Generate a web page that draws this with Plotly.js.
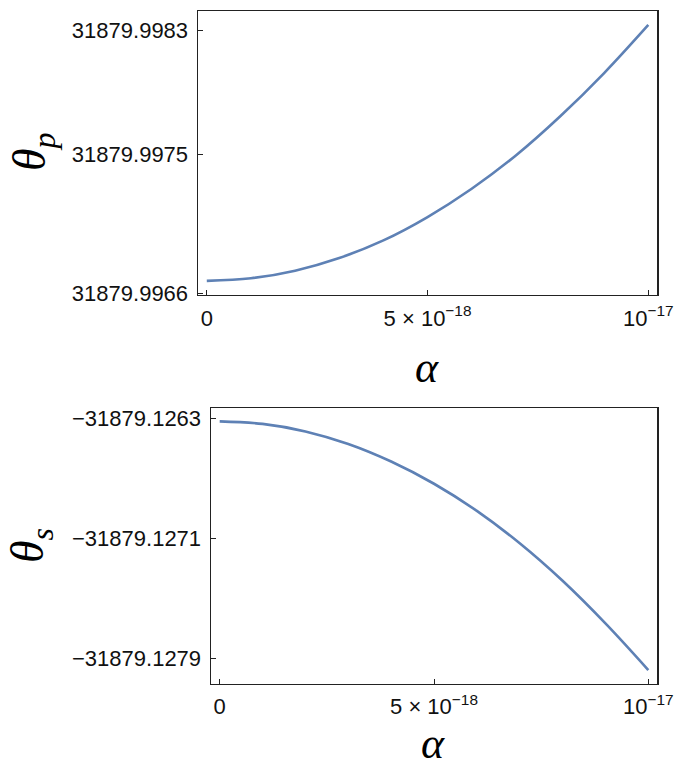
<!DOCTYPE html>
<html>
<head>
<meta charset="utf-8">
<script src="https://cdn.plot.ly/plotly-3.0.1.min.js"></script>
<style>html,body{margin:0;padding:0;background:#fff;}#chart{width:676px;height:770px;}</style>
</head>
<body>
<div id="chart"></div>
<script>
// alpha values (same for both panels)
const alpha = [0, 1e-18, 2e-18, 3e-18, 4e-18, 5e-18, 6e-18, 7e-18, 8e-18, 9e-18, 1e-17];
// theta_p (top panel)
const thetaP = [31879.996681, 31879.996698, 31879.996747, 31879.996829, 31879.996943,
                31879.997094, 31879.997277, 31879.997492, 31879.997744, 31879.998025, 31879.998336];
// theta_s (bottom panel)
const thetaS = [-31879.126322, -31879.126339, -31879.126389, -31879.126473, -31879.126590,
                -31879.126738, -31879.126919, -31879.127135, -31879.127385, -31879.127669, -31879.127980];
// tick values / labels
const xTickVals = [0, 5e-18, 1e-17];
const xTickText = ['0', '5 × 10<sup>−18</sup>', '10<sup>−17</sup>'];
const yTickValsP = [31879.9966, 31879.9975, 31879.9983];
const yTickTextP = ['31879.9966', '31879.9975', '31879.9983'];
const yTickValsS = [-31879.1279, -31879.1271, -31879.1263];
const yTickTextS = ['−31879.1279', '−31879.1271', '−31879.1263'];

const W = 676, H = 770;
const lineColor = '#5E81B5';
const frameColor = '#222222';
const tickFont = {family: 'Liberation Sans, Arial, sans-serif', size: 22, color: '#111'};
const symFont = {family: 'Liberation Serif, Times New Roman, serif', size: 46, style: 'italic', color: '#000'};
const alphaFont = {family: 'Liberation Serif, Times New Roman, serif', size: 44, style: 'italic', color: '#000'};

const traces = [
  {x: alpha, y: thetaP, type: 'scatter', mode: 'lines', line: {color: lineColor, width: 2.6, shape: 'spline'}, xaxis: 'x', yaxis: 'y', hoverinfo: 'skip'},
  {x: alpha, y: thetaS, type: 'scatter', mode: 'lines', line: {color: lineColor, width: 2.6, shape: 'spline'}, xaxis: 'x2', yaxis: 'y2', hoverinfo: 'skip'}
];

function axBase() {
  return {showgrid: false, zeroline: false, showline: true, mirror: true, linecolor: frameColor, linewidth: 1.2,
          ticks: 'inside', ticklen: 5, tickwidth: 1, tickcolor: frameColor, tickfont: tickFont, tickmode: 'array'};
}

const layout = {
  width: W, height: H,
  margin: {l: 0, r: 0, t: 0, b: 0},
  paper_bgcolor: '#fff', plot_bgcolor: '#fff',
  showlegend: false,
  xaxis: Object.assign(axBase(), {domain: [197.7 / W, 657.3 / W], range: [-0.206e-18, 10.204e-18],
    tickvals: xTickVals, ticktext: xTickText, anchor: 'y', ticklabelstandoff: 3}),
  yaxis: Object.assign(axBase(), {domain: [1 - 295 / H, 1 - 11 / H], range: [31879.996590, 31879.998426],
    tickvals: yTickValsP, ticktext: yTickTextP, anchor: 'x', ticklabelstandoff: 4}),
  xaxis2: Object.assign(axBase(), {domain: [210.7 / W, 657.3 / W], range: [-0.21e-18, 10.21e-18],
    tickvals: xTickVals, ticktext: xTickText, anchor: 'y2', ticklabelstandoff: 3}),
  yaxis2: Object.assign(axBase(), {domain: [1 - 683.7 / H, 1 - 407.7 / H], range: [-31879.128071, -31879.126231],
    tickvals: yTickValsS, ticktext: yTickTextS, anchor: 'x2', ticklabelstandoff: 4}),
  annotations: [
    {text: 'θ<sub>p</sub>', xref: 'paper', yref: 'paper', x: 33 / W, y: 1 - 152 / H, showarrow: false,
     xanchor: 'center', yanchor: 'middle', textangle: -90, font: symFont},
    {text: 'θ<sub>s</sub>', xref: 'paper', yref: 'paper', x: 31 / W, y: 1 - 546 / H, showarrow: false,
     xanchor: 'center', yanchor: 'middle', textangle: -90, font: symFont},
    {text: 'α', xref: 'paper', yref: 'paper', x: 427 / W, y: 1 - 368 / H, showarrow: false,
     xanchor: 'center', yanchor: 'middle', font: alphaFont},
    {text: 'α', xref: 'paper', yref: 'paper', x: 433 / W, y: 1 - 743 / H, showarrow: false,
     xanchor: 'center', yanchor: 'middle', font: alphaFont}
  ]
};

Plotly.newPlot('chart', traces, layout, {staticPlot: true, displayModeBar: false});
</script>
</body>
</html>
